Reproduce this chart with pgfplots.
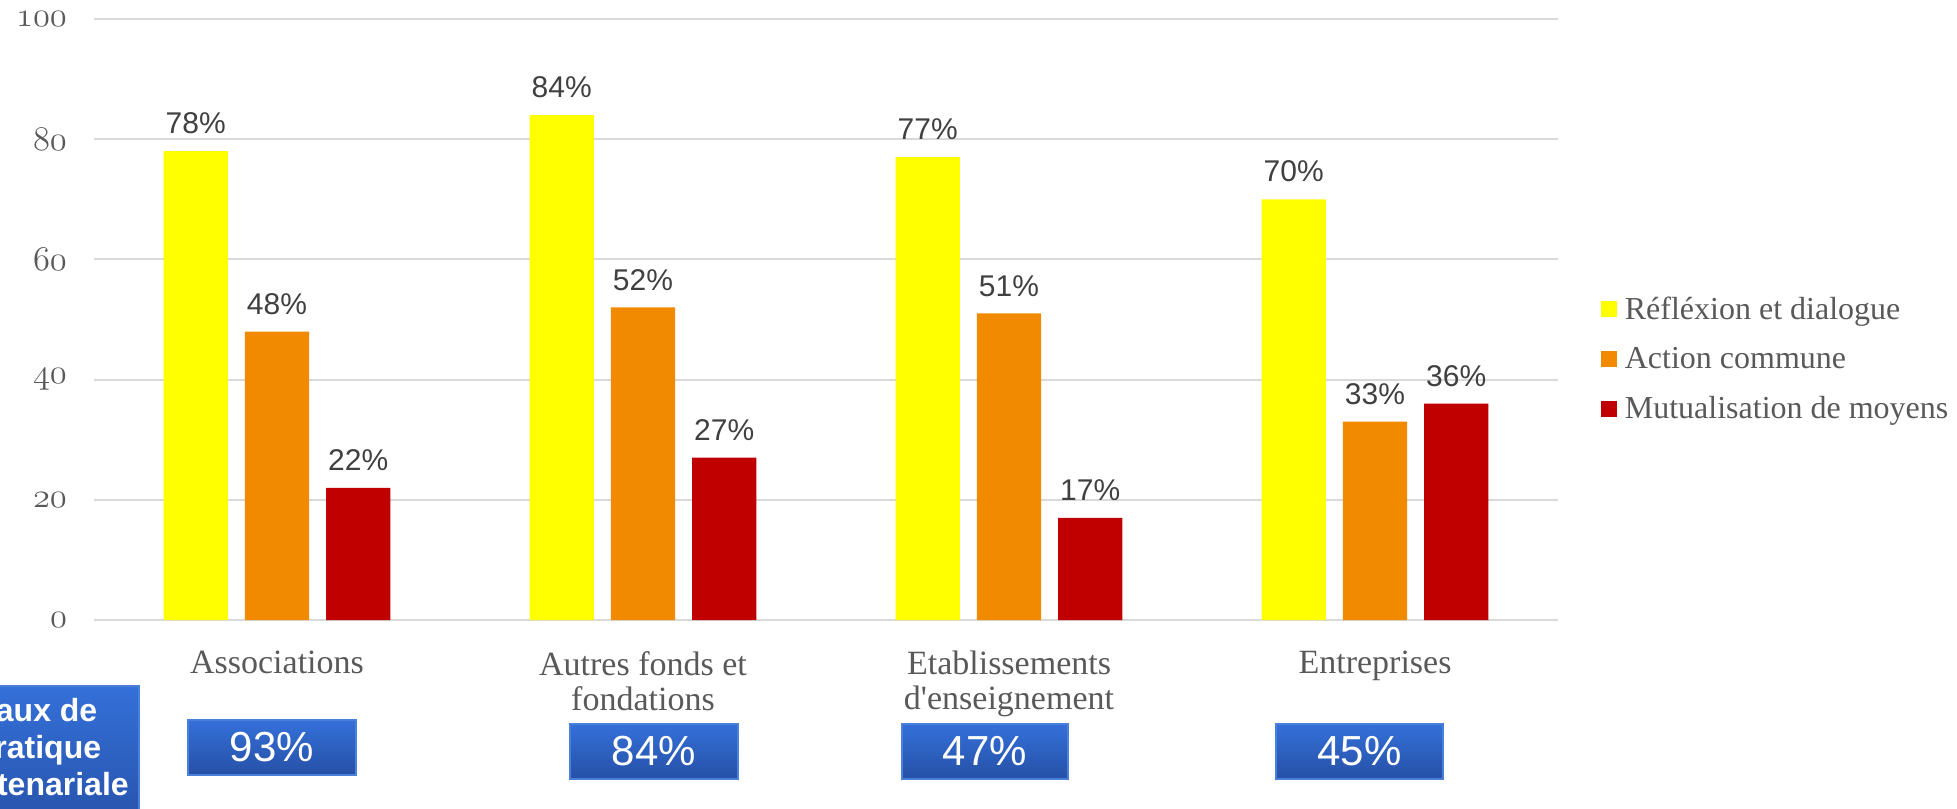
\documentclass[border=0pt]{standalone}
\usepackage{pgfplots}
\pgfplotsset{compat=1.18}
\usepackage{fontspec}
\setmainfont{Liberation Serif}
\newfontface\serifnolig{Liberation Serif}[Ligatures=TeXOff]
\newfontfamily\arial{Liberation Sans}
\definecolor{cyel}{HTML}{FFFF00}
\definecolor{corange}{HTML}{F28A00}
\definecolor{cred}{HTML}{C00000}
\definecolor{labelgray}{HTML}{595959}
\definecolor{labeldark}{HTML}{404040}
\definecolor{gridgray}{HTML}{D9D9D9}
\definecolor{btop}{HTML}{3470D9}
\definecolor{bbot}{HTML}{2650A6}
\definecolor{bedge}{HTML}{4A80DA}
\begin{document}
\begin{tikzpicture}
\path[use as bounding box] (-47pt,-94pt) rectangle (931.5pt,310pt);
\begin{axis}[
  at={(0,0)}, anchor=south west,
  scale only axis, width=732pt, height=300.5pt,
  xmin=-0.5, xmax=3.5, ymin=0, ymax=100,
  axis line style={draw=none},
  major tick length=0pt,
  /pgf/number format/assume math mode=true,
  ytick={0,20,40,60,80,100},
  yticklabels={$\mathnormal{0}$,$\mathnormal{20}$,$\mathnormal{40}$,$\mathnormal{60}$,$\mathnormal{80}$,$\mathnormal{100}$},
  yticklabel style={font=\fontsize{18.5}{22}\selectfont, text=labelgray, xshift=-10pt},
  ymajorgrids, grid style={draw=gridgray, line width=1pt},
  xtick={0,1,2,3},
  xticklabels={Associations, Autres fonds et\\fondations, Etablissements\\d{\serifnolig'}enseignement, Entreprises},
  xticklabel style={align=center, font=\fontsize{17}{17.5}\selectfont, text=labelgray, anchor=north, yshift=-12pt},
  ybar=0pt, bar width=0.175,
  nodes near coords={\pgfmathprintnumber{\pgfplotspointmeta}\%},
  nodes near coords style={font=\arial\fontsize{15}{18}\selectfont, text=labeldark, anchor=south, yshift=5pt},
  legend style={at={(1.029,0.434)}, anchor=west, draw=none, fill=none,
    font=\fontsize{16}{19}\selectfont, text=labelgray, row sep=8.5pt, inner sep=0pt,
    /tikz/every odd column/.append style={column sep=2pt}},
  legend cell align=left,
  legend image code/.code={\fill[#1, draw=none] (0pt,-4pt) rectangle (8pt,4pt);},
  clip=false,
]
\addplot[fill=cyel, draw=none, bar shift=-0.222] coordinates {(0,78) (1,84) (2,77) (3,70)};
\addplot[fill=corange, draw=none, bar shift=0] coordinates {(0,48) (1,52) (2,51) (3,33)};
\addplot[fill=cred, draw=none, bar shift=0.222] coordinates {(0,22) (1,27) (2,17) (3,36)};
\legend{Réfléxion et dialogue, Action commune, Mutualisation de moyens}
\end{axis}
% annotation boxes
\shade[top color=btop, bottom color=bbot, draw=bedge, line width=0.6pt] (-97pt,-33pt) rectangle (22.5pt,-110pt);
\node[text=white, font=\arial\bfseries\fontsize{16}{18.5}\selectfont, align=center] at (-28pt,-65pt) {Taux de\\pratique\\partenariale};
\foreach \xa/\xb/\ya/\yb/\t in {47/131/-50/-77.5/93, 238/322/-52/-79.5/84, 404/487/-52/-79.5/47, 591/674.5/-52/-79.5/45}{
  \shade[top color=btop, bottom color=bbot, draw=bedge, line width=0.6pt] (\xa pt,\ya pt) rectangle (\xb pt,\yb pt);
  \node[text=white, font=\arial\fontsize{21}{24}\selectfont] at ({(\xa+\xb)/2*1pt},{(\ya+\yb)/2*1pt}) {\t\%};
}
\end{tikzpicture}
\end{document}
